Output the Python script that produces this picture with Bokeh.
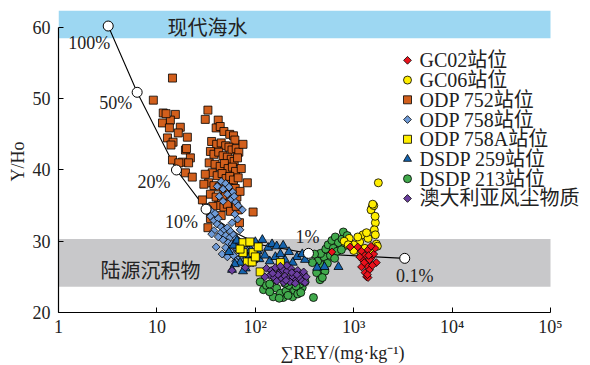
import math
from bokeh.plotting import figure
from bokeh.models import BoxAnnotation, Label, FixedTicker, Range1d, LinearScale
from bokeh.core.properties import value
from bokeh.embed import file_html
from bokeh.resources import INLINE

FONT = "Liberation Serif, Noto Sans CJK SC"
CJK = "Noto Sans CJK SC"

# ---------------- data ----------------
x_ticks = [1, 10, 100, 1000, 10000, 100000]
x_tick_labels = ["1", "10", "10²", "10³", "10⁴", "10⁵"]
y_ticks = [20, 30, 40, 50, 60]

seawater_band = (58.5, None)
terrigenous_band = (23.6, 30.3)

mix_x = [3.2, 6.3, 15.8, 31.6, 45, 65, 112, 200, 347, 3300]
mix_y = [60.2, 50.9, 40.0, 34.5, 32.6, 31.1, 29.5, 28.9, 28.3, 27.6]
mix_pt_x = [3.2, 6.3, 15.8, 31.6, 347, 3300]
mix_pt_y = [60.2, 50.9, 40.0, 34.5, 28.3, 27.6]
mix_labels = ["100%", "50%", "20%", "10%", "1%", "0.1%"]

gc02_x = [1100, 1200, 1300, 1400, 1500, 1600, 1700, 1250, 1350, 1450, 1300, 1350, 1400, 1550, 1200, 1650, 1150, 1450, 600, 920, 1380, 1500, 1280, 1420]
gc02_y = [29.2, 28.6, 28.0, 28.8, 27.6, 28.2, 27.0, 27.3, 26.6, 26.0, 25.6, 25.0, 24.9, 26.6, 26.4, 29.0, 27.8, 27.4, 28.5, 29.2, 25.3, 29.3, 27.0, 28.0]

gc06_x = [1780, 1540, 1500, 1600, 1660, 1620, 1660, 1240, 1150, 1000, 1400, 1300, 1700, 900, 800, 1100, 1200, 1500, 1000, 1350, 1650, 1560, 880, 1740]
gc06_y = [38.2, 34.8, 34.4, 35.0, 32.6, 31.6, 30.9, 30.9, 29.9, 29.5, 30.4, 29.0, 29.6, 30.4, 30.0, 30.6, 28.2, 28.6, 28.7, 31.2, 33.5, 35.2, 29.5, 29.3]

odp752_x = [14.4, 9.2, 11.6, 15.4, 11.4, 13.7, 17.3, 13.4, 16.5, 20.4, 12.8, 14.6, 13.9, 19.5, 14.4, 18.2, 21.9, 21.0, 16.7, 19.5, 22.9, 12.4, 20.0,
            33, 31, 42, 40, 44, 48, 55, 60, 62, 36, 40.5, 45, 50, 54, 58, 64, 68, 35, 38, 42.5, 47, 52, 57, 61, 66, 34, 39, 44, 48.5, 53, 58.5, 63,
            36.5, 41, 46, 50.5, 55, 60, 67, 33.5, 38, 43, 48, 53.5, 58, 62.5, 35, 40, 45.5, 50, 55.5, 60.5, 65, 42, 48, 52, 83, 95, 67, 69, 33, 35, 37, 30, 45,
            29, 31, 72, 75, 70, 56, 64]
odp752_y = [52.9, 49.8, 48.0, 47.8, 46.6, 47.0, 46.0, 45.9, 45.2, 44.6, 44.5, 43.9, 43.5, 42.8, 41.4, 41.1, 41.7, 41.0, 41.0, 39.6, 39.0, 47.9, 43.0,
            48.4, 47.1, 47.0, 45.9, 46.1, 45.4, 45.0, 44.8, 44.2, 44.0, 43.6, 43.8, 43.4, 43.2, 42.8, 43.0, 42.5, 42.6, 42.2, 42.5, 42.0, 41.8, 41.5, 41.2, 41.7, 41.0, 40.8, 40.5, 40.9, 40.2, 40.4, 39.8,
            39.6, 39.2, 39.5, 38.8, 39.1, 38.6, 38.9, 38.2, 37.8, 37.6, 37.2, 37.5, 36.9, 37.4, 36.6, 36.2, 35.9, 36.4, 35.5, 35.8, 36.2, 35.0, 34.8, 35.2, 38.2, 34.1, 34.4, 32.6, 31.9, 33.2, 34.9, 38.0, 33.6,
            35.8, 39.4, 40.2, 43.6, 37.0, 34.2, 34.9]

odp758_x = [45, 50, 41, 47, 54, 59, 52, 43, 57, 63, 61, 47, 74, 67, 33, 36, 35, 39, 38, 42, 41, 45, 48, 52, 56, 44, 50, 55, 60, 64,
            47, 53, 58, 62, 68, 72, 50, 56, 66, 74, 80, 60, 70, 78, 85, 52, 63, 76, 90, 95, 38, 42, 110, 100, 58, 66, 70,
            36, 40, 62, 68, 46]
odp758_y = [38.4, 38.1, 37.7, 37.3, 37.6, 36.9, 36.6, 36.3, 35.9, 35.5, 36.3, 35.6, 34.4, 35.0, 34.8, 34.2, 33.5, 33.9, 32.9, 33.2,
            32.4, 32.0, 31.6, 31.9, 31.4, 31.1, 30.8, 30.5, 30.9, 30.4, 30.2, 29.8, 29.6, 29.3, 29.9, 29.4, 29.1, 28.6, 28.8, 28.3,
            28.8, 28.0, 27.7, 27.4, 27.9, 27.8, 27.2, 26.8, 28.4, 27.0, 31.5, 30.6, 28.6, 27.6, 32.6, 33.1, 31.6,
            31.0, 29.2, 33.8, 30.0, 28.2]

odp758a_x = [75, 83, 93, 112, 180, 95, 107, 75, 88, 70, 100]
odp758a_y = [29.8, 27.1, 27.1, 25.7, 27.0, 28.4, 29.2, 28.4, 29.9, 28.9, 27.8]

dsdp259_x = [54, 60, 65, 70, 75, 80, 85, 90, 95, 70, 62, 80, 100, 105, 118, 135, 148, 165, 192, 220, 265, 320, 425, 505, 700, 140, 160, 200, 240, 110, 58, 75, 88, 300, 180, 125]
dsdp259_y = [28.5, 29.4, 30.1, 29.0, 28.2, 29.6, 27.6, 28.8, 27.4, 27.0, 26.8, 26.2, 29.9, 28.6, 30.2, 29.1, 29.6, 29.3, 29.4, 28.5, 27.8, 27.4, 26.3, 26.4, 26.4, 27.2, 27.8, 27.4, 27.0, 27.5, 26.0, 25.8, 26.9, 28.2, 28.2, 28.0]

dsdp213_x = [112, 121, 152, 192, 240, 300, 390, 130, 140, 165, 180, 205, 220, 250, 270, 285, 320, 160, 200, 235, 260, 140, 175, 215, 290, 310,
             455, 470, 440, 480, 430, 500, 460, 520, 550, 600, 650, 700, 760, 785, 820, 900, 580, 620, 680, 750, 540, 510, 860, 420, 480, 640, 380, 400, 950]
dsdp213_y = [24.3, 23.2, 22.2, 22.1, 22.2, 23.5, 22.1, 23.8, 22.9, 23.4, 22.7, 23.0, 23.8, 23.1, 22.6, 24.0, 24.3, 24.6, 24.1, 24.5, 23.7, 24.0, 22.0, 22.4, 22.8, 25.2,
             24.6, 25.3, 26.0, 26.6, 27.2, 27.8, 28.3, 28.9, 29.5, 30.1, 30.6, 29.8, 30.3, 31.3, 29.4, 30.0, 28.0, 29.0, 28.6, 28.8, 26.9, 25.8, 30.8, 25.6, 24.9, 27.6, 27.0, 28.2, 29.2]

dust_x = [130, 145, 160, 175, 190, 210, 230, 250, 270, 290, 310, 140, 155, 170, 185, 200, 220, 240, 260, 280, 300, 330, 165, 195, 225, 255, 210, 180, 150, 235, 265, 125, 58, 79, 320, 205]
dust_y = [26.2, 25.9, 26.3, 25.6, 26.0, 25.8, 26.2, 25.5, 25.9, 25.3, 25.7, 25.2, 24.9, 25.3, 24.7, 25.1, 24.8, 25.0, 24.6, 24.9, 24.4, 25.0, 24.4, 24.2, 24.3, 24.1, 26.6, 26.5, 25.5, 25.6, 25.3, 25.0, 25.9, 26.3, 24.2, 24.5]

legend_labels = ["GC02站位", "GC06站位", "ODP 752站位", "ODP 758站位", "ODP 758A站位", "DSDP 259站位", "DSDP 213站位", "澳大利亚风尘物质"]

# ---------------- figure ----------------
# the frame runs to the right edge so the legend is not clipped; the axis stops at 10^5
FRAME_W, FRAME_H = 532, 303
X_MAX = 10 ** (5 + 40 / 98.4)
p = figure(width=590, height=365, x_axis_type="log", x_range=(1, X_MAX), y_range=(20, 62.38),
           output_backend="svg", toolbar_location=None,
           min_border_left=58, min_border_right=0, min_border_top=10, min_border_bottom=52)
p.outline_line_color = None
p.xgrid.visible = False
p.ygrid.visible = False
p.background_fill_color = "white"
p.border_fill_color = "white"
p.extra_x_ranges = {"px": Range1d(0, FRAME_W)}
p.extra_x_scales = {"px": LinearScale()}
p.extra_y_ranges = {"py": Range1d(FRAME_H, 0)}
p.extra_y_scales = {"py": LinearScale()}

p.add_layout(BoxAnnotation(bottom=seawater_band[0], top=seawater_band[1], right=1e5, fill_color="#9DD7F2",
                           fill_alpha=1, line_color=None, level="underlay"))
p.add_layout(BoxAnnotation(bottom=terrigenous_band[0], top=terrigenous_band[1], right=1e5, fill_color="#C8C8CA",
                           fill_alpha=1, line_color=None, level="underlay"))

p.add_layout(Label(x=32.6, y=60.1, text="现代海水", text_font=CJK, text_font_size="20px",
                   text_align="center", text_baseline="middle", text_color="#222222"))
p.add_layout(Label(x=8.6, y=26.0, text="陆源沉积物", text_font=CJK, text_font_size="20px",
                   text_align="center", text_baseline="middle", text_color="#222222"))

p.line(mix_x, mix_y, line_color="black", line_width=1.1)

sty = dict(line_color="black", line_width=0.8)
series = [
    # legend index, x, y, marker, size, angle, colour
    (2, odp752_x, odp752_y, "square", 8, 0, "#D25F1C"),
    (3, odp758_x, odp758_y, "square", 5.5, math.pi / 4, "#6E9AD6"),
    (6, dsdp213_x, dsdp213_y, "circle", 8, 0, "#41A94C"),
    (5, dsdp259_x, dsdp259_y, "triangle", 9, 0, "#1564AE"),
    (4, odp758a_x, odp758a_y, "square", 8, 0, "#FFEE00"),
    (7, dust_x, dust_y, "square", 5.5, math.pi / 4, "#6A3E9E"),
    (1, gc06_x, gc06_y, "circle", 8, 0, "#FFEE00"),
    (0, gc02_x, gc02_y, "square", 5.5, math.pi / 4, "#E8121C"),
]
for idx, xs, ys, mk, sz, ang, col in series:
    p.scatter(xs, ys, marker=mk, size=sz, angle=ang, fill_color=col, **sty)

p.scatter(mix_pt_x, mix_pt_y, marker="circle", size=10, fill_color="white", line_color="black", line_width=1)

offs = [(2, -17, "right"), (-5, -11, "right"), (-6, -12, "right"), (-8, -13, "right"), (-1, 16, "center"), (10, -18, "center")]
for (xv, yv, t, (dx, dy, al)) in zip(mix_pt_x, mix_pt_y, mix_labels, offs):
    p.add_layout(Label(x=xv, y=yv, text=t, x_offset=dx, y_offset=dy, text_align=al, text_baseline="middle",
                       text_font=FONT, text_font_size="18px", text_color="#222222"))

# hand-built legend (frame pixel coordinates)
LEG_X, LEG_Y0, LEG_DY = 349, 50, 19.8
for idx, xs, ys, mk, sz, ang, col in series:
    ly = LEG_Y0 + LEG_DY * idx
    p.scatter([LEG_X], [ly], marker=mk, size=(sz if mk != "triangle" else 8), angle=ang, fill_color=col,
              x_range_name="px", y_range_name="py", **sty)
    p.text([LEG_X + 12], [ly], text=[legend_labels[idx]], text_font=value(FONT), text_font_size="20px",
           text_baseline="middle", text_align="left", text_color="#222222",
           x_range_name="px", y_range_name="py")

# axes
xa = p.xaxis[0]
xa.ticker = FixedTicker(ticks=x_ticks, minor_ticks=[])
xa.major_label_overrides = {t: l for t, l in zip(x_ticks, x_tick_labels)}
xa.bounds = (1, 1e5)
xa.axis_label = "\u2003\u2003∑REY/(mg·kg⁻¹)"
xa.axis_label_standoff = 3
ya = p.yaxis[0]
ya.ticker = FixedTicker(ticks=y_ticks, minor_ticks=[])
ya.bounds = (20, 60)
ya.axis_label = "Y/Ho"
ya.axis_label_standoff = 2
for ax in (xa, ya):
    ax.major_tick_in = 5
    ax.major_tick_out = 0
    ax.minor_tick_line_color = None
    ax.axis_line_color = "black"
    ax.axis_line_width = 1.2
    ax.major_tick_line_color = "black"
    ax.major_label_text_font = FONT
    ax.major_label_text_font_size = "18px"
    ax.major_label_text_color = "#222222"
    ax.axis_label_text_font = FONT
    ax.axis_label_text_font_size = "18px"
    ax.axis_label_text_font_style = "normal"
    ax.axis_label_text_color = "#222222"
xa.major_label_standoff = 4
ya.major_label_standoff = 8

open("out.html", "w").write(file_html(p, INLINE))
